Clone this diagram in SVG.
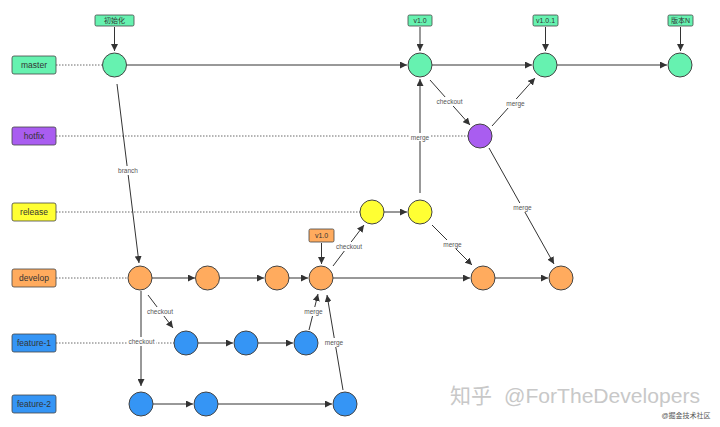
<svg xmlns="http://www.w3.org/2000/svg" width="720" height="427" viewBox="0 0 720 427">
<defs>
<marker id="ah" viewBox="0 0 10 10" refX="10" refY="5" markerWidth="7" markerHeight="7" orient="auto" markerUnits="userSpaceOnUse">
<path d="M0,0 L10,5 L0,10 z" fill="#333"/>
</marker>
</defs>
<style>
text{font-family:"Liberation Sans","Noto Sans CJK SC",sans-serif}
.lb{font-size:8.5px;fill:#333;text-anchor:middle;dominant-baseline:central}
.tg{font-size:7px;fill:#333;text-anchor:middle;dominant-baseline:central}
.cl{font-size:6.5px;fill:#555;text-anchor:middle;dominant-baseline:central}
.box{stroke:#444;stroke-width:0.8}
.n{stroke:#444;stroke-width:1}
.g{fill:#66f2b0}.p{fill:#a95df0}.y{fill:#ffff33}.o{fill:#ffab5e}.b{fill:#3595f5}
.dot{stroke:#444;stroke-width:0.8;stroke-dasharray:1.5 1.5;fill:none}
.ln{stroke:#333;stroke-width:1;fill:none;marker-end:url(#ah)}
.bg{fill:#fff}
</style>
<rect width="720" height="427" fill="#fff"/>

<g id="dotted">
<line class="dot" x1="56" y1="65" x2="102" y2="65"/>
<line class="dot" x1="56" y1="136" x2="468" y2="136"/>
<line class="dot" x1="56" y1="212" x2="360" y2="212"/>
<line class="dot" x1="56" y1="278" x2="128" y2="278"/>
<line class="dot" x1="56" y1="343" x2="174" y2="343"/>
</g>

<g id="labels">
<g id="lbl-master"><rect class="box g" x="12" y="56" width="44" height="18" rx="2"/><text class="lb" x="34" y="65">master</text></g>
<g id="lbl-hotfix"><rect class="box p" x="12" y="127" width="44" height="18" rx="2"/><text class="lb" x="34" y="136">hotfix</text></g>
<g id="lbl-release"><rect class="box y" x="12" y="203" width="44" height="18" rx="2"/><text class="lb" x="34" y="212">release</text></g>
<g id="lbl-develop"><rect class="box o" x="12" y="269" width="44" height="18" rx="2"/><text class="lb" x="34" y="278">develop</text></g>
<g id="lbl-feature1"><rect class="box b" x="12" y="334" width="44" height="18" rx="2"/><text class="lb" x="34" y="343">feature-1</text></g>
<g id="lbl-feature2"><rect class="box b" x="12" y="395" width="44" height="18" rx="2"/><text class="lb" x="34" y="404">feature-2</text></g>
</g>

<g id="tags">
<g id="tag-init"><rect class="box g" x="95" y="15" width="39" height="11" rx="1.5"/><text class="tg" x="114.5" y="20.5">初始化</text></g>
<g id="tag-v10"><rect class="box g" x="408" y="15" width="24" height="11" rx="1.5"/><text class="tg" x="420" y="20.5">v1.0</text></g>
<g id="tag-v101"><rect class="box g" x="533" y="15" width="25" height="11" rx="1.5"/><text class="tg" x="545.5" y="20.5">v1.0.1</text></g>
<g id="tag-vN"><rect class="box g" x="668" y="15" width="25" height="11" rx="1.5"/><text class="tg" x="680.5" y="20.5">版本N</text></g>
<g id="tag-dev-v10"><rect class="box o" x="309" y="229" width="25" height="13" rx="1.5"/><text class="tg" x="321.5" y="235.5">v1.0</text></g>
</g>

<g id="connectors">
<line class="ln" x1="114.5" y1="27" x2="114.5" y2="51"/>
<line class="ln" x1="420" y1="27" x2="420" y2="51"/>
<line class="ln" x1="545.5" y1="27" x2="545.5" y2="51"/>
<line class="ln" x1="680.5" y1="27" x2="680.5" y2="51"/>
<line class="ln" x1="321.5" y1="243" x2="321.5" y2="264"/>
<line class="ln" x1="126.5" y1="65" x2="407" y2="65"/>
<line class="ln" x1="432" y1="65" x2="532" y2="65"/>
<line class="ln" x1="557" y1="65" x2="667" y2="65"/>
<line class="ln" x1="430" y1="80" x2="470" y2="125"/>
<line class="ln" x1="492" y1="126" x2="535" y2="78"/>
<line class="ln" x1="489" y1="148" x2="554" y2="264"/>
<line class="ln" x1="117" y1="84" x2="139" y2="263"/>
<line class="ln" x1="420" y1="193" x2="420" y2="79"/>
<line class="ln" x1="384" y1="212" x2="407" y2="212"/>
<line class="ln" x1="432" y1="225" x2="472" y2="265"/>
<line class="ln" x1="333" y1="266" x2="364" y2="225"/>
<line class="ln" x1="152" y1="278" x2="195" y2="278"/>
<line class="ln" x1="220" y1="278" x2="264" y2="278"/>
<line class="ln" x1="289" y1="278" x2="308" y2="278"/>
<line class="ln" x1="333" y1="278" x2="470" y2="278"/>
<line class="ln" x1="495" y1="278" x2="548" y2="278"/>
<line class="ln" x1="148" y1="295" x2="173" y2="328"/>
<line class="ln" x1="141" y1="291" x2="141" y2="386"/>
<line class="ln" x1="198" y1="343" x2="233" y2="343"/>
<line class="ln" x1="258" y1="343" x2="293" y2="343"/>
<line class="ln" x1="309" y1="330" x2="318" y2="294"/>
<line class="ln" x1="153" y1="404" x2="193" y2="404"/>
<line class="ln" x1="218" y1="404" x2="332" y2="404"/>
<line class="ln" x1="343" y1="390" x2="327" y2="295"/>
</g>

<g id="connector-labels">
<rect class="bg" x="117" y="166" width="22" height="9"/><text class="cl" x="128" y="170.5">branch</text>
<rect class="bg" x="436" y="97" width="27" height="9"/><text class="cl" x="449.5" y="101.5">checkout</text>
<rect class="bg" x="505" y="99" width="21" height="9"/><text class="cl" x="515.5" y="103.5">merge</text>
<rect class="bg" x="409" y="133" width="22" height="8"/><text class="cl" x="420" y="137">merge</text>
<rect class="bg" x="512" y="203" width="21" height="9"/><text class="cl" x="522.5" y="207">merge</text>
<rect class="bg" x="442" y="240" width="21" height="9"/><text class="cl" x="452.5" y="244.5">merge</text>
<rect class="bg" x="335" y="242" width="28" height="9"/><text class="cl" x="349" y="246.5">checkout</text>
<rect class="bg" x="146" y="307" width="28" height="9"/><text class="cl" x="160" y="311.5">checkout</text>
<rect class="bg" x="127" y="337" width="29" height="9"/><text class="cl" x="141.5" y="341">checkout</text>
<rect class="bg" x="303" y="307" width="21" height="9"/><text class="cl" x="313.5" y="311">merge</text>
<rect class="bg" x="324" y="338" width="21" height="9"/><text class="cl" x="334" y="342.5">merge</text>
</g>

<g id="nodes">
<circle id="m1" class="n g" cx="114.5" cy="65" r="12"/>
<circle id="m2" class="n g" cx="420" cy="65" r="12"/>
<circle id="m3" class="n g" cx="545" cy="65" r="12"/>
<circle id="m4" class="n g" cx="680" cy="65" r="12"/>
<circle id="h1" class="n p" cx="480" cy="136" r="12"/>
<circle id="r1" class="n y" cx="372" cy="212" r="12"/>
<circle id="r2" class="n y" cx="420" cy="212" r="12"/>
<circle id="d1" class="n o" cx="140" cy="278" r="12"/>
<circle id="d2" class="n o" cx="207.5" cy="278" r="12"/>
<circle id="d3" class="n o" cx="277" cy="278" r="12"/>
<circle id="d4" class="n o" cx="321" cy="278" r="12"/>
<circle id="d5" class="n o" cx="483" cy="278" r="12"/>
<circle id="d6" class="n o" cx="561" cy="278" r="12"/>
<circle id="f1a" class="n b" cx="186" cy="343" r="12"/>
<circle id="f1b" class="n b" cx="246" cy="343" r="12"/>
<circle id="f1c" class="n b" cx="306" cy="343" r="12"/>
<circle id="f2a" class="n b" cx="141" cy="404" r="12"/>
<circle id="f2b" class="n b" cx="206" cy="404" r="12"/>
<circle id="f2c" class="n b" cx="345" cy="404" r="12"/>
</g>

<g id="watermark">
<text x="450" y="403" font-size="21" fill="#c8c8c8" font-family="'Noto Sans CJK SC','Noto Sans',sans-serif">知乎</text>
<text x="504" y="403" font-size="21" fill="#c8c8c8" textLength="196" lengthAdjust="spacingAndGlyphs" font-family="'Noto Sans','Noto Sans CJK SC',sans-serif">@ForTheDevelopers</text>
<text x="686" y="418" font-size="7" fill="#555" text-anchor="middle" font-family="'Noto Sans CJK SC',sans-serif">@掘金技术社区</text>
</g>
</svg>
